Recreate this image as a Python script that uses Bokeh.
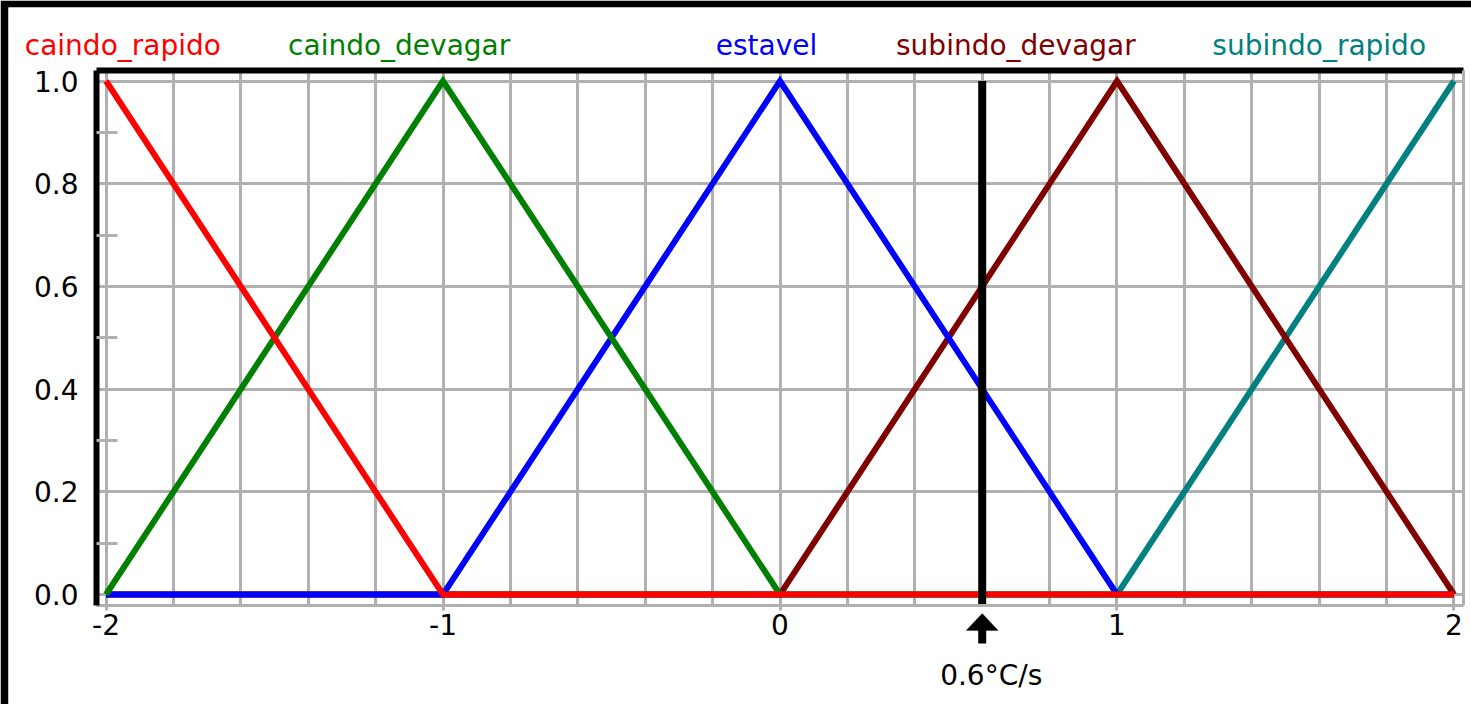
from bokeh.plotting import figure
from bokeh.models import (FixedTicker, LinearAxis, Range1d, Arrow, PolyAnnotation,
                          Label, LabelSet, ColumnDataSource, PrintfTickFormatter, Grid)
from bokeh.core.properties import value
from bokeh.embed import file_html
from bokeh.resources import INLINE

# Triangular membership functions of the temperature-rate variable (°C/s)
names = ["caindo_rapido", "caindo_devagar", "estavel", "subindo_devagar", "subindo_rapido"]
colors = ["#ff0000", "#008000", "#0000ff", "#800000", "#008080"]
mf_x = [
    [-2, -1, 2],
    [-2, -1, 0, 2],
    [-2, -1, 0, 1, 2],
    [-2, 0, 1, 2],
    [-2, 1, 2],
]
mf_y = [
    [1, 0, 0],
    [0, 1, 0, 0],
    [0, 0, 1, 0, 0],
    [0, 0, 1, 0],
    [0, 0, 1],
]

# Axes and grid
x_ticks = [-2, -1, 0, 1, 2]
x_tick_labels = ["-2", "-1", "0", "1", "2"]
x_grid = [-2.0, -1.8, -1.6, -1.4, -1.2, -1.0, -0.8, -0.6, -0.4, -0.2, 0.0,
          0.2, 0.4, 0.6, 0.8, 1.0, 1.2, 1.4, 1.6, 1.8, 2.0]
y_ticks = [0.0, 0.2, 0.4, 0.6, 0.8, 1.0]
y_minor = [0.1, 0.3, 0.5, 0.7, 0.9]

# Current input value
input_value = 0.6
input_unit = "°C/s"

# Where the set names sit along the top
name_x = [-1.95, -1.13, -0.04, 0.70, 1.60]
name_y = 1.0497

FONT = "DejaVu Sans"
FS = "28px"
GRID = "#b0b0b0"

# plotting box (inside the frame rules) and the whole drawing area
x_lo, x_hi = -2.0282, 2.0282
y_lo, y_hi = -0.0214, 1.0204
view_x = (-2.28932, 2.05193)
view_y = (-0.21422, 1.14314)

p = figure(width=1471, height=704,
           x_range=Range1d(*view_x), y_range=Range1d(*view_y),
           output_backend="svg", toolbar_location=None,
           x_axis_location=None, y_axis_location=None,
           min_border_left=8, min_border_right=0,
           min_border_top=7, min_border_bottom=0,
           background_fill_color="white", border_fill_color="black",
           outline_line_color=None)

# grids limited to the plotting box
p.center = []
p.add_layout(Grid(dimension=0, ticker=FixedTicker(ticks=x_grid), cross_bounds=(y_lo, y_hi),
                  grid_line_color=GRID, grid_line_width=3))
p.add_layout(Grid(dimension=1, ticker=FixedTicker(ticks=y_ticks), cross_bounds=(x_lo, x_hi),
                  grid_line_color=GRID, grid_line_width=3))

# left axis: dark rule, labels, short minor stubs inside
left = LinearAxis(ticker=FixedTicker(ticks=y_ticks, minor_ticks=y_minor),
                  formatter=PrintfTickFormatter(format="%.1f"),
                  fixed_location=x_lo, bounds=(y_lo, y_hi))
left.axis_line_color = "black"
left.axis_line_width = 6
left.major_tick_in = 0
left.major_tick_out = 0
left.major_tick_line_color = None
left.minor_tick_in = 21
left.minor_tick_out = 0
left.minor_tick_line_color = GRID
left.minor_tick_line_width = 3
left.major_label_standoff = 18
left.major_label_text_font = FONT
left.major_label_text_font_size = FS
left.major_label_text_color = "black"
p.add_layout(left, "left")

# bottom axis
bottom = LinearAxis(ticker=FixedTicker(ticks=x_ticks),
                    major_label_overrides=dict(zip(x_ticks, x_tick_labels)),
                    fixed_location=y_lo, bounds=(x_lo, x_hi))
bottom.axis_line_color = GRID
bottom.axis_line_width = 3
bottom.major_tick_in = 0
bottom.major_tick_out = 5
bottom.major_tick_line_color = GRID
bottom.major_tick_line_width = 3
bottom.minor_tick_line_color = None
bottom.major_label_standoff = 4
bottom.major_label_text_font = FONT
bottom.major_label_text_font_size = FS
bottom.major_label_text_color = "black"
p.add_layout(bottom, "below")

# top and right rules of the box
top = LinearAxis(ticker=FixedTicker(ticks=[]), fixed_location=y_hi, bounds=(x_lo, x_hi))
top.axis_line_color = "black"
top.axis_line_width = 6
top.major_tick_line_color = None
top.minor_tick_line_color = None
top.major_label_text_font_size = "0px"
p.add_layout(top, "above")

right = LinearAxis(ticker=FixedTicker(ticks=[]), fixed_location=x_hi, bounds=(y_lo, y_hi))
right.axis_line_color = GRID
right.axis_line_width = 3
right.major_tick_line_color = None
right.minor_tick_line_color = None
right.major_label_text_font_size = "0px"
p.add_layout(right, "right")

# membership curves, first set drawn last (on top)
for xs, ys, c in reversed(list(zip(mf_x, mf_y, colors))):
    p.line(xs, ys, line_color=c, line_width=6, line_join="miter")

# input marker line
p.segment(x0=[input_value], y0=[y_lo], x1=[input_value], y1=[1.0],
          line_color="black", line_width=8)

# set names
src = ColumnDataSource(dict(x=name_x, y=[name_y] * len(names), name=names, color=colors))
p.add_layout(LabelSet(x="x", y="y", text="name", text_color="color", source=src,
                      text_align="center", text_baseline="alphabetic",
                      text_font=value(FONT), text_font_size=value(FS)))

# input value caption
p.add_layout(Label(x=input_value, y=-0.1577, text=f"{input_value}{input_unit}",
                   text_align="center", text_baseline="middle", x_offset=9,
                   text_font=FONT, text_font_size=FS, text_color="black"))

# arrow pointing at the input value on the axis
p.add_layout(Arrow(x_start=input_value, y_start=-0.0954,
                   x_end=input_value, y_end=-0.068,
                   line_color="black", line_width=8, end=None))
hw = 16 / 337.0
p.add_layout(PolyAnnotation(xs=[input_value - hw, input_value, input_value + hw],
                            ys=[-0.070, -0.037, -0.070],
                            fill_color="black", fill_alpha=1.0,
                            line_color="black", line_width=1))

open("out.html", "w").write(file_html(p, INLINE))
